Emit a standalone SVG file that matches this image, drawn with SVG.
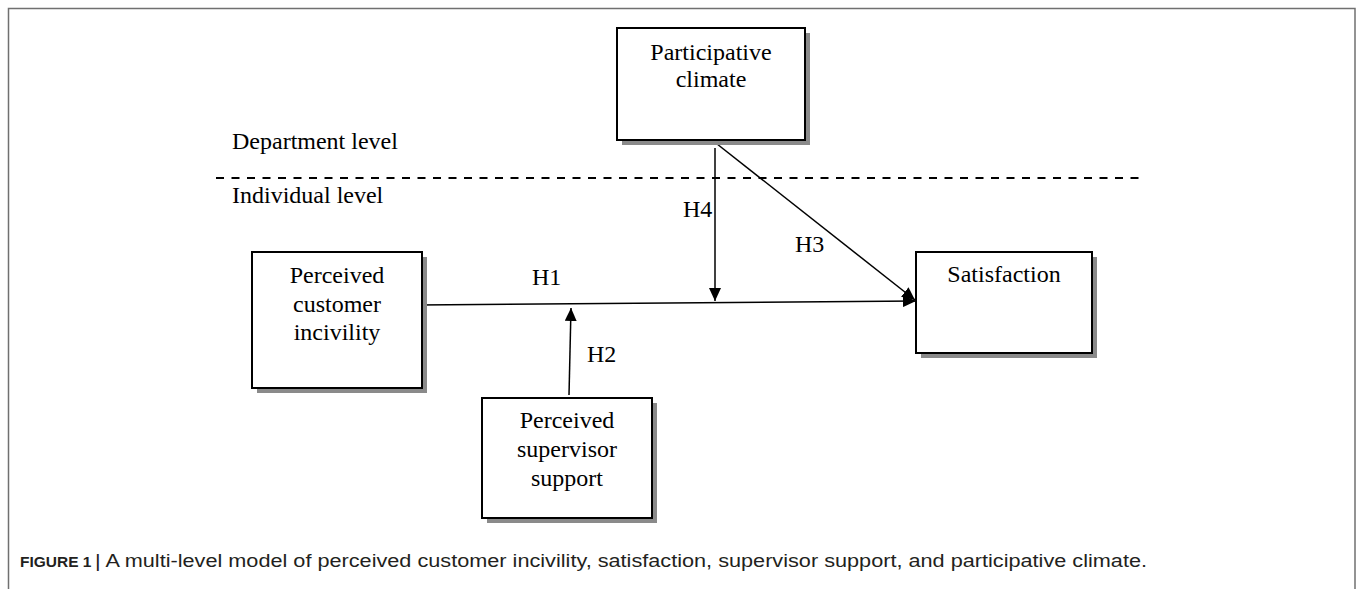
<svg xmlns="http://www.w3.org/2000/svg" width="1357" height="589" viewBox="0 0 1357 589">
<style>
.box{fill:#fff;stroke:#000;stroke-width:2}
.shd{fill:#8a8a8a}
.t{font-family:"Liberation Serif","Times New Roman",serif;font-size:24px;fill:#000}
.c{text-anchor:middle}
.conn{stroke:#000;stroke-width:1.5;fill:none}
.cap{font-family:"Liberation Sans Narrow","Liberation Sans",Arial,sans-serif;font-size:17.5px;fill:#231f20}
</style>
<defs>
<marker id="ah" markerUnits="userSpaceOnUse" markerWidth="14" markerHeight="12" refX="13" refY="6" orient="auto">
<path d="M0,0 L13,6 L0,12 z" fill="#000"/>
</marker>
</defs>
<rect width="1357" height="589" fill="#fff"/>
<path d="M8.5,600 V8.5 H1355 V600" fill="none" stroke="#707070" stroke-width="1.5"/>

<g id="levels">
<line x1="216" y1="178" x2="1143" y2="178" stroke="#000" stroke-width="2" stroke-dasharray="8 7.5"/>
<text class="t" x="232" y="149">Department level</text>
<text class="t" x="232" y="203">Individual level</text>
</g>

<g id="connectors">
<line class="conn" x1="418" y1="305" x2="916" y2="301" marker-end="url(#ah)"/>
<line class="conn" x1="712" y1="140" x2="915" y2="300" marker-end="url(#ah)"/>
<line class="conn" x1="715" y1="148" x2="715" y2="301" marker-end="url(#ah)"/>
<line class="conn" x1="569" y1="395" x2="571" y2="308" marker-end="url(#ah)"/>
<text class="t" x="532" y="285">H1</text>
<text class="t" x="587" y="362">H2</text>
<text class="t" x="795" y="252">H3</text>
<text class="t" x="683" y="217">H4</text>
</g>

<g id="participative-climate">
<rect class="shd" x="622" y="33" width="188" height="112"/>
<rect class="box" x="617" y="28" width="188" height="112"/>
<text class="t c" x="711" y="60">Participative</text>
<text class="t c" x="711" y="87">climate</text>
</g>

<g id="perceived-customer-incivility">
<rect class="shd" x="257" y="257" width="170" height="136"/>
<rect class="box" x="252" y="252" width="170" height="136"/>
<text class="t c" x="337" y="283">Perceived</text>
<text class="t c" x="337" y="312">customer</text>
<text class="t c" x="337" y="340">incivility</text>
</g>

<g id="satisfaction">
<rect class="shd" x="921" y="257" width="176" height="101"/>
<rect class="box" x="916" y="252" width="176" height="101"/>
<text class="t c" x="1004" y="282">Satisfaction</text>
</g>

<g id="perceived-supervisor-support">
<rect class="shd" x="487" y="403" width="170" height="120"/>
<rect class="box" x="482" y="398" width="170" height="120"/>
<text class="t c" x="567" y="428">Perceived</text>
<text class="t c" x="567" y="457">supervisor</text>
<text class="t c" x="567" y="486">support</text>
</g>

<g id="caption">
<text class="cap" x="20" y="567"><tspan font-weight="bold" font-size="15.5px">FIGURE 1</tspan><tspan x="95" textLength="1052" lengthAdjust="spacingAndGlyphs">|  A multi-level model of perceived customer incivility, satisfaction, supervisor support, and participative climate.</tspan></text>
</g>
</svg>
